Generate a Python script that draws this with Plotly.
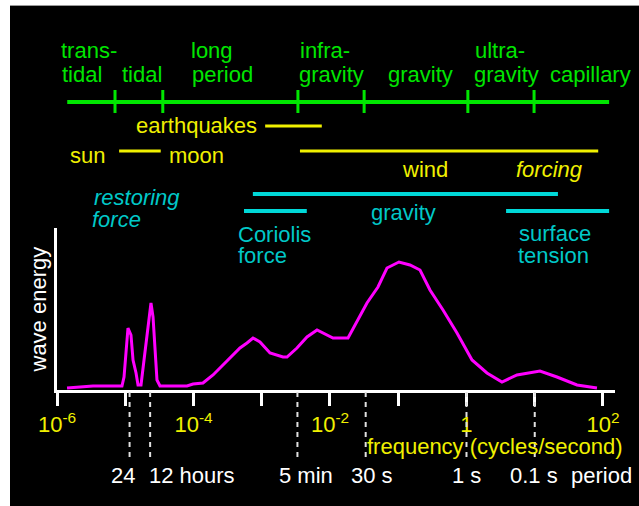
import plotly.graph_objects as go

# ---------------- data ----------------
# wave-energy spectrum: log10 frequency (cycles/second) vs energy (arbitrary units)
freq_exp = [-5.853, -5.473, -5.048, -5.018, -4.960, -4.916, -4.886, -4.842, -4.813,
            -4.769, -4.725, -4.681, -4.652, -4.623, -4.593, -4.564, -4.535, -4.491,
            -4.095, -4.007, -3.861, -3.714, -3.612, -3.465, -3.319, -3.216, -3.128,
            -3.026, -2.879, -2.689, -2.630, -2.484, -2.337, -2.190, -1.956, -1.736,
            -1.634, -1.458, -1.297, -1.165, -0.989, -0.828, -0.681, -0.535, -0.344,
            -0.139, 0.081, 0.300, 0.520, 0.740, 1.077, 1.326, 1.619, 1.912]
energy = [2, 4, 4, 13, 62, 55, 30, 17, 5,
          5, 30, 53, 73, 87, 73, 37, 10, 4,
          4, 6, 7, 15, 22, 33, 42, 47, 52,
          48, 37, 33, 33, 42, 53, 60, 52, 52,
          65, 87, 103, 122, 128, 125, 120, 100, 80,
          57, 30, 17, 8, 15, 19, 13, 5, 2]

# classification bands (log10 frequency)
band_span_exp = [-5.85, 2.09]
regime_bounds_exp = [-5.15, -4.45, -2.47, -1.50, 0.02, 0.99]
earthquake_span_exp = [-2.95, -2.12]
tide_span_exp = [-5.09, -4.48]
wind_span_exp = [-2.44, 1.93]
gravity_span_exp = [-3.13, 1.34]
coriolis_span_exp = [-3.26, -2.34]
surface_tension_span_exp = [0.58, 2.09]

period_seconds = [86400, 43200, 300, 30, 1, 0.1]
period_labels = ["24", "12 hours", "5 min", "30 s", "1 s", "0.1 s"]

major_tick_exps = [-6, -4, -2, 0, 2]
major_tick_labels = ["10<sup>-6</sup>", "10<sup>-4</sup>", "10<sup>-2</sup>", "1",
                     "10<sup>2</sup>"]
minor_tick_exps = [-5, -3, -1, 1]

# ---------------- styling ----------------
FONT = "Liberation Sans, Arial, sans-serif"
FS = 22
GREEN = "#00e600"
YELLOW = "#f0f000"
CYAN = "#00d8d8"
CYAN_T = "#00c8c8"
MAGENTA = "#ff00ff"
WHITE = "#ffffff"

W, H = 639, 506


def f(e):
    return 10 ** e


fig = go.Figure()

# spectrum
fig.add_trace(go.Scatter(x=[f(e) for e in freq_exp], y=energy, mode="lines",
                         line=dict(color=MAGENTA, width=3), xaxis="x", yaxis="y",
                         hoverinfo="skip", showlegend=False))


def hseg(span, level, color, width):
    fig.add_trace(go.Scatter(x=[f(span[0]), f(span[1])], y=[level, level], mode="lines",
                             line=dict(color=color, width=width), yaxis="y2",
                             hoverinfo="skip", showlegend=False))


# green regime band
hseg(band_span_exp, 102, GREEN, 4)
tx, ty = [], []
for e in regime_bounds_exp:
    tx += [f(e), f(e), None]
    ty += [90, 113, None]
fig.add_trace(go.Scatter(x=tx, y=ty, mode="lines", line=dict(color=GREEN, width=3),
                         yaxis="y2", hoverinfo="skip", showlegend=False))

# forcing (yellow)
hseg(earthquake_span_exp, 126, YELLOW, 3)
hseg(tide_span_exp, 151, YELLOW, 3)
hseg(wind_span_exp, 151, YELLOW, 3)

# restoring force (cyan)
hseg(gravity_span_exp, 194, CYAN, 4)
hseg(coriolis_span_exp, 211, CYAN, 4)
hseg(surface_tension_span_exp, 211, CYAN, 4)

# dashed period markers
dx, dy = [], []
for p in period_seconds:
    dx += [1.0 / p, 1.0 / p, None]
    dy += [392, 458, None]
fig.add_trace(go.Scatter(x=dx, y=dy, mode="lines",
                         line=dict(color="#e0e0e0", width=2, dash="5px,5px"),
                         yaxis="y2", hoverinfo="skip", showlegend=False))

annotations = []


def lab(text, xe, y, color, italic=False, size=FS):
    if italic:
        text = "<i>" + text + "</i>"
    annotations.append(dict(text=text, x=xe, y=y, xref="x", yref="y2",
                            xanchor="center", yanchor="middle", showarrow=False,
                            font=dict(family=FONT, size=size, color=color)))


# green labels
lab("trans-", -5.531, 50, GREEN)
lab("tidal", -5.634, 74, GREEN)
lab("tidal", -4.755, 74, GREEN)
lab("long", -3.729, 50, GREEN)
lab("period", -3.582, 74, GREEN)
lab("infra-", -2.073, 50, GREEN)
lab("gravity", -1.985, 74, GREEN)
lab("gravity", -0.667, 74, GREEN)
lab("ultra-", 0.491, 50, GREEN)
lab("gravity", 0.593, 74, GREEN)
lab("capillary", 1.824, 74, GREEN)

# yellow labels
lab("earthquakes", -3.963, 125, YELLOW)
lab("sun", -5.546, 155, YELLOW)
lab("moon", -3.963, 155, YELLOW)
lab("wind", -0.608, 169, YELLOW)
lab("forcing", 1.209, 169, YELLOW, italic=True)

# cyan labels
lab("restoring", -4.828, 197, CYAN_T, italic=True)
lab("force", -5.121, 219, CYAN_T, italic=True)
lab("gravity", -0.916, 212, CYAN_T)
lab("Coriolis", -2.806, 234, CYAN_T)
lab("force", -2.996, 255, CYAN_T)
lab("surface", 1.297, 233, CYAN_T)
lab("tension", 1.282, 255, CYAN_T)

# axis / period labels
lab("frequency (cycles/second)", 0.418, 446, YELLOW)
period_label_x = [-5.033, -4.022, -2.352, -1.385, -0.007, 0.989]
for t, xe in zip(period_labels, period_label_x):
    lab(t, xe, 475, WHITE)
lab("period", 1.985, 475, WHITE)

annotations.append(dict(text="wave energy", x=37.5 / W, y=(H - 310) / H, xref="paper",
                        yref="paper", textangle=-90, showarrow=False,
                        xanchor="center", yanchor="middle",
                        font=dict(family=FONT, size=FS, color=WHITE)))

shapes = [
    dict(type="rect", xref="paper", yref="paper", x0=0, x1=10 / W, y0=0, y1=1,
         fillcolor="white", line=dict(width=0), layer="above"),
    dict(type="rect", xref="paper", yref="paper", x0=0, x1=1, y0=1 - 5 / H, y1=1,
         fillcolor="white", line=dict(width=0), layer="above"),
    dict(type="line", xref="paper", yref="paper", x0=10 / W, x1=1,
         y0=1 - 5.5 / H, y1=1 - 5.5 / H, line=dict(color="#9a9a9a", width=1), layer="above"),
]

fig.update_layout(
    template="none",
    width=W, height=H, autosize=False,
    margin=dict(l=0, r=0, t=0, b=0, pad=0),
    paper_bgcolor="black", plot_bgcolor="rgba(0,0,0,0)",
    showlegend=False,
    font=dict(family=FONT, size=FS, color=WHITE),
    xaxis=dict(type="log", range=[-6, 2.176], domain=[57 / W, 615 / W], anchor="y",
               automargin=False,
               showline=True, linecolor=WHITE, linewidth=3, showgrid=False,
               zeroline=False, ticks="outside", ticklen=13, tickwidth=3,
               tickcolor=WHITE, tickvals=[f(e) for e in major_tick_exps],
               ticktext=major_tick_labels,
               tickfont=dict(family=FONT, size=FS, color=YELLOW),
               minor=dict(tickvals=[f(e) for e in minor_tick_exps], ticks="outside",
                          ticklen=13, tickwidth=3, tickcolor=WHITE, showgrid=False)),
    yaxis=dict(domain=[(H - 390) / H, (H - 228) / H], range=[0, 162], anchor="x",
               automargin=False,
               showline=True, linecolor=WHITE, linewidth=3, showgrid=False,
               zeroline=False, showticklabels=False, ticks=""),
    yaxis2=dict(domain=[0, 1], range=[H, 0], anchor="x", visible=False,
                automargin=False, showgrid=False, zeroline=False),
    annotations=annotations,
    shapes=shapes,
)

fig.write_html("out.html", config={"displayModeBar": False},
               post_script="document.body.style.margin='0';")
